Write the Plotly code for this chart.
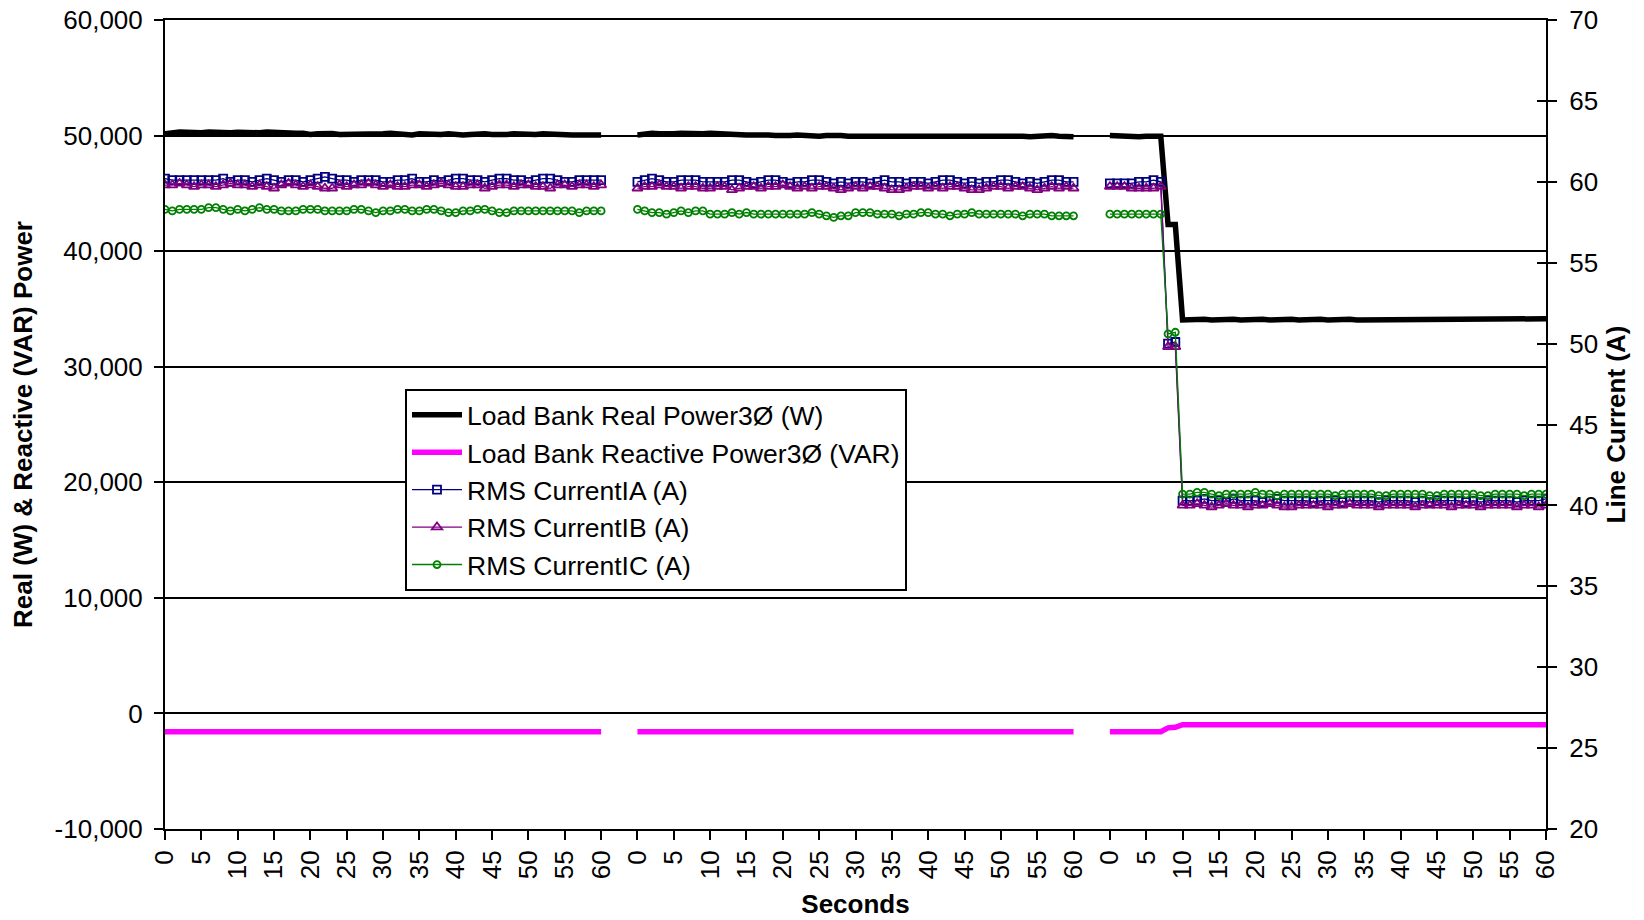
import plotly.graph_objects as go

# ---------------- data ----------------
SECONDS = list(range(61))
SEGMENT_COUNT = 3
SEGMENT_SPAN = 65  # 61 seconds + 4 blank categories between test runs
TICK_LABELS = ["0", "5", "10", "15", "20", "25", "30", "35", "40", "45", "50", "55", "60"]

real_w_1 = [50150, 50250, 50300, 50280, 50220, 50250, 50300, 50250, 50220, 50250,
            50280, 50250, 50200, 50250, 50300, 50250, 50220, 50200, 50200, 50200,
            50100, 50150, 50200, 50180, 50100, 50100, 50150, 50150, 50100, 50050,
            50150, 50200, 50150, 50100, 50050, 50150, 50100, 50050, 50100, 50150,
            50080, 50050, 50100, 50150, 50150, 50100, 50050, 50100, 50150, 50100,
            50050, 50100, 50150, 50100, 50050, 50050, 50050, 50050, 50050, 50050, 50050]
real_w_2 = [50050, 50150, 50200, 50150, 50100, 50150, 50200, 50150, 50100, 50150,
            50200, 50150, 50100, 50100, 50080, 50050, 50050, 50080, 50050, 50000,
            49950, 50000, 50050, 50000, 49950, 49950, 50000, 50050, 50000, 49950,
            49950, 50000, 50050, 50000, 49950, 49950, 50000, 50000, 49950, 49950,
            50000, 50050, 50000, 49950, 49950, 50000, 50000, 50000, 49950, 49950,
            50000, 50050, 50000, 49950, 49900, 49950, 50000, 50000, 49950, 49900, 49900]
real_w_3 = [50000, 49950, 49900, 49900, 49900, 49950, 50000, 49950, 42300, 42300,
            34050, 34100, 34150, 34100, 34050, 34100, 34150, 34100, 34050, 34100,
            34150, 34100, 34050, 34100, 34150, 34100, 34050, 34100, 34150, 34100,
            34050, 34100, 34150, 34100, 34050, 34050, 34100, 34100, 34100, 34100,
            34100, 34100, 34100, 34100, 34100, 34150, 34100, 34050, 34100, 34150,
            34100, 34050, 34100, 34150, 34100, 34050, 34050, 34050, 34050, 34100, 34150]

reactive_var_1 = [-1580, -1580, -1580, -1580, -1580, -1580, -1580, -1580, -1580, -1580,
                  -1580, -1580, -1580, -1580, -1580, -1580, -1580, -1580, -1580, -1580,
                  -1580, -1580, -1580, -1580, -1580, -1580, -1580, -1580, -1580, -1580,
                  -1580, -1580, -1580, -1580, -1580, -1580, -1580, -1580, -1580, -1580,
                  -1580, -1580, -1580, -1580, -1580, -1580, -1580, -1580, -1580, -1580,
                  -1580, -1580, -1580, -1580, -1580, -1580, -1580, -1580, -1580, -1580, -1580]
reactive_var_2 = [-1580, -1580, -1580, -1580, -1580, -1580, -1580, -1580, -1580, -1580,
                  -1580, -1580, -1580, -1580, -1580, -1580, -1580, -1580, -1580, -1580,
                  -1580, -1580, -1580, -1580, -1580, -1580, -1580, -1580, -1580, -1580,
                  -1580, -1580, -1580, -1580, -1580, -1580, -1580, -1580, -1580, -1580,
                  -1580, -1580, -1580, -1580, -1580, -1580, -1580, -1580, -1580, -1580,
                  -1580, -1580, -1580, -1580, -1580, -1580, -1580, -1580, -1580, -1580, -1580]
reactive_var_3 = [-1580, -1580, -1580, -1580, -1580, -1580, -1580, -1580, -1250, -1200,
                  -980, -980, -980, -980, -980, -980, -980, -980, -980, -980,
                  -980, -980, -980, -980, -980, -980, -980, -980, -980, -980,
                  -980, -980, -980, -980, -980, -980, -980, -980, -980, -980,
                  -980, -980, -980, -980, -980, -980, -980, -980, -980, -980,
                  -980, -980, -980, -980, -980, -980, -980, -980, -980, -980, -980]

ia_1 = [60.2, 60.1, 60.1, 60.1, 60.1, 60.1, 60.1, 60.1, 60.2, 60.0,
        60.1, 60.1, 60.0, 60.1, 60.2, 60.1, 60.0, 60.1, 60.1, 60.0,
        60.1, 60.2, 60.3, 60.2, 60.1, 60.1, 60.0, 60.1, 60.1, 60.1,
        60.0, 60.0, 60.1, 60.1, 60.2, 60.0, 60.0, 60.1, 60.0, 60.1,
        60.2, 60.2, 60.1, 60.1, 60.0, 60.1, 60.2, 60.2, 60.1, 60.1,
        60.0, 60.1, 60.2, 60.2, 60.1, 60.0, 60.0, 60.1, 60.1, 60.1, 60.1]
ia_2 = [60.0, 60.1, 60.2, 60.1, 60.0, 60.0, 60.1, 60.1, 60.1, 60.0,
        60.0, 60.0, 60.0, 60.1, 60.1, 60.0, 59.9, 60.0, 60.1, 60.1,
        60.0, 59.9, 60.0, 60.0, 60.1, 60.1, 60.0, 59.9, 60.0, 59.9,
        60.0, 60.0, 59.9, 60.0, 60.1, 60.0, 60.0, 59.9, 60.0, 60.0,
        59.9, 60.0, 60.1, 60.1, 60.0, 59.9, 60.0, 59.9, 60.0, 60.0,
        60.1, 60.1, 60.0, 59.9, 60.0, 59.9, 60.0, 60.1, 60.1, 60.0, 60.0]
ia_3 = [59.9, 59.9, 59.9, 59.9, 60.0, 60.0, 60.1, 60.0, 50.0, 50.1,
        40.3, 40.3, 40.3, 40.4, 40.3, 40.3, 40.2, 40.4, 40.3, 40.3,
        40.3, 40.2, 40.3, 40.4, 40.3, 40.3, 40.3, 40.3, 40.2, 40.3,
        40.3, 40.3, 40.2, 40.3, 40.3, 40.3, 40.3, 40.2, 40.3, 40.3,
        40.3, 40.3, 40.2, 40.3, 40.2, 40.3, 40.3, 40.3, 40.3, 40.2,
        40.3, 40.2, 40.3, 40.3, 40.3, 40.3, 40.2, 40.3, 40.3, 40.3, 40.4]

ib_1 = [59.8, 59.8, 59.9, 59.8, 59.7, 59.8, 59.8, 59.7, 59.8, 59.9,
        59.8, 59.8, 59.7, 59.8, 59.7, 59.6, 59.8, 59.9, 59.8, 59.7,
        59.8, 59.7, 59.6, 59.6, 59.8, 59.7, 59.8, 59.8, 59.9, 59.8,
        59.7, 59.8, 59.7, 59.7, 59.8, 59.8, 59.7, 59.8, 59.9, 59.8,
        59.7, 59.7, 59.8, 59.8, 59.6, 59.7, 59.8, 59.8, 59.7, 59.8,
        59.8, 59.7, 59.7, 59.6, 59.8, 59.8, 59.7, 59.8, 59.8, 59.7, 59.8]
ib_2 = [59.6, 59.7, 59.7, 59.8, 59.7, 59.7, 59.6, 59.7, 59.7, 59.6,
        59.6, 59.7, 59.7, 59.5, 59.6, 59.7, 59.7, 59.6, 59.7, 59.7,
        59.8, 59.7, 59.6, 59.7, 59.6, 59.7, 59.7, 59.6, 59.5, 59.6,
        59.7, 59.6, 59.7, 59.7, 59.6, 59.5, 59.5, 59.6, 59.7, 59.7,
        59.6, 59.7, 59.6, 59.7, 59.7, 59.6, 59.5, 59.5, 59.6, 59.7,
        59.7, 59.6, 59.7, 59.7, 59.6, 59.5, 59.6, 59.7, 59.6, 59.7, 59.6]
ib_3 = [59.7, 59.7, 59.7, 59.6, 59.6, 59.6, 59.6, 59.7, 49.8, 49.8,
        40.0, 40.0, 40.1, 40.0, 39.9, 40.0, 40.1, 40.0, 40.0, 39.9,
        40.0, 40.0, 40.1, 40.0, 39.9, 39.9, 40.0, 40.0, 40.0, 40.0,
        39.9, 40.0, 40.0, 40.1, 40.0, 40.0, 40.0, 39.9, 40.0, 40.0,
        40.0, 40.0, 39.9, 40.0, 40.0, 40.0, 40.0, 39.9, 40.0, 40.0,
        40.0, 39.9, 40.0, 40.0, 40.0, 40.0, 39.9, 40.0, 40.0, 39.9, 40.0]

ic_1 = [58.3, 58.2, 58.3, 58.3, 58.3, 58.3, 58.4, 58.4, 58.3, 58.2,
        58.3, 58.2, 58.3, 58.4, 58.3, 58.3, 58.2, 58.2, 58.2, 58.3,
        58.3, 58.3, 58.2, 58.2, 58.2, 58.2, 58.3, 58.3, 58.2, 58.1,
        58.2, 58.2, 58.3, 58.3, 58.2, 58.2, 58.3, 58.3, 58.2, 58.1,
        58.1, 58.2, 58.2, 58.3, 58.3, 58.2, 58.1, 58.1, 58.2, 58.2,
        58.2, 58.2, 58.2, 58.2, 58.2, 58.2, 58.2, 58.1, 58.2, 58.2, 58.2]
ic_2 = [58.3, 58.2, 58.1, 58.1, 58.0, 58.1, 58.2, 58.1, 58.2, 58.2,
        58.0, 58.0, 58.0, 58.1, 58.0, 58.1, 58.0, 58.0, 58.0, 58.0,
        58.0, 58.0, 58.0, 58.0, 58.1, 58.0, 57.9, 57.8, 57.9, 57.9,
        58.1, 58.1, 58.1, 58.0, 58.0, 58.0, 57.9, 58.0, 58.0, 58.1,
        58.1, 58.0, 58.0, 57.9, 58.0, 58.0, 58.1, 58.0, 58.0, 58.0,
        58.0, 58.0, 58.0, 57.9, 58.0, 58.0, 58.0, 57.9, 57.9, 57.9, 57.9]
ic_3 = [58.0, 58.0, 58.0, 58.0, 58.0, 58.0, 58.0, 58.0, 50.6, 50.7,
        40.7, 40.7, 40.8, 40.8, 40.7, 40.6, 40.7, 40.7, 40.7, 40.7,
        40.8, 40.7, 40.7, 40.6, 40.7, 40.7, 40.7, 40.7, 40.7, 40.7,
        40.7, 40.6, 40.7, 40.7, 40.7, 40.7, 40.7, 40.6, 40.6, 40.7,
        40.7, 40.7, 40.7, 40.7, 40.6, 40.6, 40.7, 40.7, 40.7, 40.7,
        40.7, 40.6, 40.6, 40.7, 40.7, 40.7, 40.7, 40.6, 40.7, 40.7, 40.7]

LEFT_TICKS = [-10000, 0, 10000, 20000, 30000, 40000, 50000, 60000]
LEFT_TICK_TEXT = ["-10,000", "0", "10,000", "20,000", "30,000", "40,000", "50,000", "60,000"]
RIGHT_TICKS = [20, 25, 30, 35, 40, 45, 50, 55, 60, 65, 70]

# ---------------- helpers ----------------
def join_segments(*segs):
    xs, ys = [], []
    for k, seg in enumerate(segs):
        if k:
            xs.append(None)
            ys.append(None)
        xs.extend(k * SEGMENT_SPAN + s for s in SECONDS)
        ys.extend(seg)
    return xs, ys

tickvals, ticktext = [], []
for k in range(SEGMENT_COUNT):
    for lab in TICK_LABELS:
        tickvals.append(k * SEGMENT_SPAN + int(lab))
        ticktext.append(lab)

FONT = "Liberation Sans, Arial, sans-serif"
FS = 26

fig = go.Figure()

x, y = join_segments(real_w_1, real_w_2, real_w_3)
fig.add_trace(go.Scatter(x=x, y=y, name="Load Bank Real Power3Ø (W)", mode="lines",
                         line=dict(color="black", width=5.5), yaxis="y"))
x, y = join_segments(reactive_var_1, reactive_var_2, reactive_var_3)
fig.add_trace(go.Scatter(x=x, y=y, name="Load Bank Reactive Power3Ø (VAR)", mode="lines",
                         line=dict(color="#FF00FF", width=5.5), yaxis="y"))
x, y = join_segments(ia_1, ia_2, ia_3)
fig.add_trace(go.Scatter(x=x, y=y, name="RMS CurrentIA (A)", mode="lines+markers",
                         line=dict(color="#000080", width=1.3),
                         marker=dict(symbol="square-open", size=8, color="#000080", line=dict(width=1.8)),
                         yaxis="y2"))
x, y = join_segments(ib_1, ib_2, ib_3)
fig.add_trace(go.Scatter(x=x, y=y, name="RMS CurrentIB (A)", mode="lines+markers",
                         line=dict(color="#800080", width=1.3),
                         marker=dict(symbol="triangle-up-open", size=9, color="#800080", line=dict(width=1.8)),
                         yaxis="y2"))
x, y = join_segments(ic_1, ic_2, ic_3)
fig.add_trace(go.Scatter(x=x, y=y, name="RMS CurrentIC (A)", mode="lines+markers",
                         line=dict(color="#008000", width=1.3),
                         marker=dict(symbol="circle-open", size=7, color="#008000", line=dict(width=1.8)),
                         yaxis="y2"))
# empty helper trace so the inner half of the right-axis cross ticks is drawn
fig.add_trace(go.Scatter(x=[None], y=[None], yaxis="y3", showlegend=False, hoverinfo="skip"))

axis_common = dict(showline=True, linecolor="black", linewidth=2, automargin=False,
                   ticklabeloverflow="allow",
                   tickfont=dict(family=FONT, size=FS, color="black"),
                   tickcolor="black", tickwidth=2, zeroline=False)

# page body has an 8px default margin, so the figure is sized 8px smaller
W, H = 1636, 912
ML, MR, MT, MB = 157, 98, 12, 91
plot_h = H - MT - MB

fig.update_layout(
    width=W, height=H,
    margin=dict(l=ML, r=MR, t=MT, b=MB),
    paper_bgcolor="white", plot_bgcolor="white",
    font=dict(family=FONT, size=FS, color="black"),
    showlegend=True,
    legend=dict(x=(405 - 8 - ML) / (W - ML - MR), y=1 - (389 - 8 - MT) / plot_h,
                xanchor="left", yanchor="top",
                bgcolor="white", bordercolor="black", borderwidth=2,
                font=dict(family=FONT, size=26.5, color="black"),
                itemwidth=50),
    xaxis=dict(range=[0, (SEGMENT_COUNT - 1) * SEGMENT_SPAN + 60],
               tickmode="array", tickvals=tickvals, ticktext=ticktext, tickangle=-90,
               ticks="outside", ticklen=9, showgrid=False, ticklabelstandoff=0, mirror=True,
               title=dict(text="<b>Seconds</b>", font=dict(family=FONT, size=FS), standoff=16),
               **axis_common),
    yaxis=dict(range=[-10000, 60000], tickmode="array", tickvals=LEFT_TICKS, ticktext=LEFT_TICK_TEXT,
               ticks="outside", ticklen=9, showgrid=True, gridcolor="black", gridwidth=1.5,
               ticklabelstandoff=6,
               title=dict(text="<b>Real (W) & Reactive (VAR) Power</b>", font=dict(family=FONT, size=FS),
                          standoff=28),
               **axis_common),
    yaxis2=dict(range=[20, 70], tickmode="array", tickvals=RIGHT_TICKS, overlaying="y", side="right",
                ticks="outside", ticklen=9, showgrid=False, ticklabelstandoff=7,
                title=dict(text="<b>Line Current (A)</b>", font=dict(family=FONT, size=FS), standoff=10),
                **axis_common),
    yaxis3=dict(range=[20, 70], tickmode="array", tickvals=RIGHT_TICKS, overlaying="y", side="right",
                ticks="inside", ticklen=9, tickwidth=2, tickcolor="black", showgrid=False,
                showticklabels=False, showline=False, zeroline=False, automargin=False),
)

fig.write_html("out.html")
